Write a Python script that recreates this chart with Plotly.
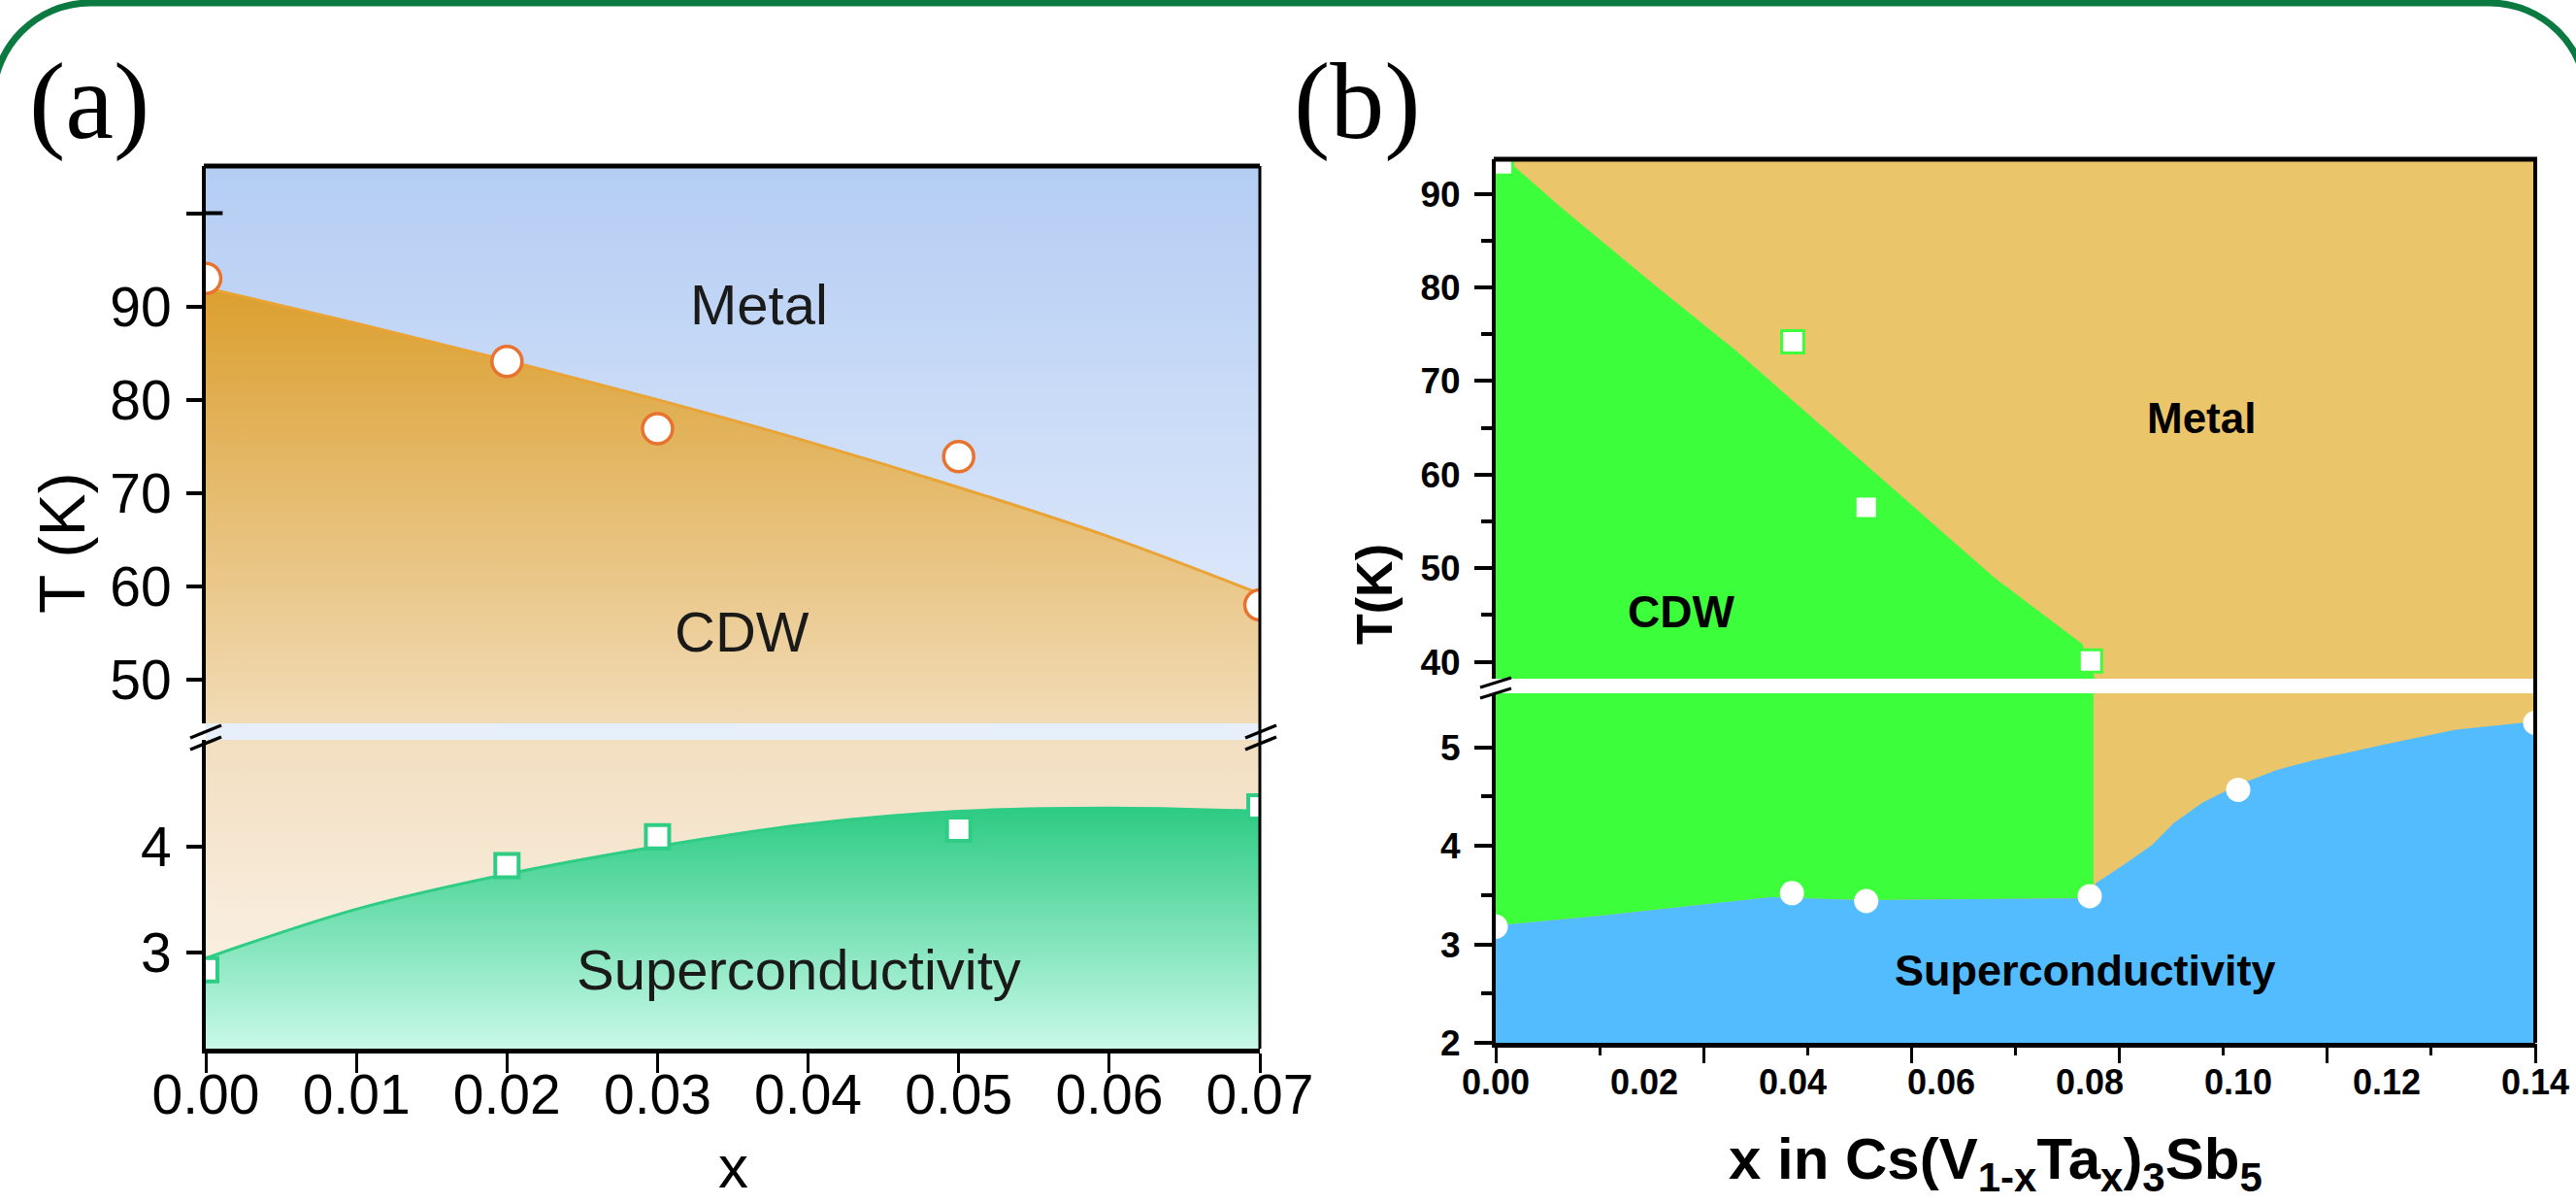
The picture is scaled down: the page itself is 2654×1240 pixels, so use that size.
import plotly.graph_objects as go

# ---------------- data: panel (a) ----------------
a_x_grid = [0.00, 0.01, 0.02, 0.03, 0.04, 0.05, 0.06, 0.07]
a_cdw_boundary = [92.0, 88.2, 84.2, 80.0, 75.5, 70.6, 65.3, 59.2]
a_sc_boundary = [2.95, 3.41, 3.74, 4.00, 4.21, 4.33, 4.36, 4.33]
a_x_samples = [0.00, 0.02, 0.03, 0.05, 0.07]
a_tcdw = [93.0, 84.1, 76.9, 73.9, 58.0]
a_tc = [2.84, 3.82, 4.09, 4.16, 4.37]
a_xticks = [0.00, 0.01, 0.02, 0.03, 0.04, 0.05, 0.06, 0.07]
a_yticks_up = [50, 60, 70, 80, 90, 100]
a_yticklabels_up = ["50", "60", "70", "80", "90", ""]
a_yticks_lo = [3, 4]

# ---------------- data: panel (b) ----------------
b_cdw_edge_x = [0.0014, 0.0089, 0.0218, 0.0323, 0.0439, 0.0556, 0.0673, 0.0790, 0.0807]
b_cdw_edge_t = [93.7, 88.5, 80.0, 73.3, 65.2, 57.0, 48.9, 41.9, 38.2]
b_cdw_low_x = 0.0805
b_sc_edge_x = [0.0, 0.0139, 0.025, 0.037, 0.045, 0.05, 0.065, 0.0805,
               0.0808, 0.0846, 0.0884, 0.0913, 0.0952, 0.1000, 0.1052,
               0.1101, 0.1197, 0.1293, 0.1394, 0.14]
b_sc_edge_t = [3.19, 3.29, 3.38, 3.48, 3.46, 3.45, 3.46, 3.47,
               3.62, 3.81, 4.01, 4.23, 4.44, 4.62, 4.77,
               4.87, 5.03, 5.18, 5.26, 5.27]
b_x_cdw = [0.0008, 0.0400, 0.0499, 0.0801]
b_tcdw = [93.2, 74.2, 56.5, 40.1]
b_x_sc = [0.0, 0.0399, 0.0499, 0.0800, 0.1000, 0.14]
b_tc = [3.18, 3.52, 3.44, 3.49, 4.57, 5.25]
b_xlabels = [0.00, 0.02, 0.04, 0.06, 0.08, 0.10, 0.12, 0.14]
b_xticks_major = [0.0, 0.028, 0.056, 0.084, 0.112, 0.14]
b_xticks_minor = [0.014, 0.042, 0.070, 0.098, 0.126]
b_yticks_up = [40, 50, 60, 70, 80, 90]
b_yminor_up = [45, 55, 65, 75, 85]
b_yticks_lo = [2, 3, 4, 5]
b_yminor_lo = [2.5, 3.5, 4.5]

# ranges
A_X = [0.0, 0.07]
A_YUP = [45.3, 105.05]
A_YLO = [2.10, 5.0]
B_X = [0.0, 0.14]
B_YUP = [38.2, 93.7]
B_YLO = [2.0, 5.55]

W, H = 2654, 1240
def px(x):
    return x / W
def py(y):
    return 1 - y / H

SANS = "Liberation Sans, Arial, sans-serif"
SERIF = "Liberation Serif, Times New Roman, serif"

fig = go.Figure()

# ---------- panel (a) ----------
fig.add_trace(go.Scatter(
    x=[A_X[0], A_X[1], A_X[1], A_X[0]], y=[A_YUP[0], A_YUP[0], A_YUP[1], A_YUP[1]],
    fill="toself", mode="lines", line=dict(width=0),
    fillgradient=dict(type="vertical", colorscale=[[0, "#E6EEFC"], [1, "#B4CDF3"]]),
    xaxis="x", yaxis="y", hoverinfo="skip", showlegend=False))
fig.add_trace(go.Scatter(
    x=[A_X[0], A_X[1]], y=[A_YUP[0], A_YUP[0]], mode="lines", line=dict(width=0),
    xaxis="x", yaxis="y", hoverinfo="skip", showlegend=False))
fig.add_trace(go.Scatter(
    x=a_x_grid, y=a_cdw_boundary, mode="lines", fill="tonexty",
    line=dict(color="#EAA335", width=3, shape="spline"),
    fillgradient=dict(type="vertical", start=A_YUP[0], stop=max(a_cdw_boundary),
                      colorscale=[[0, "#F1DBB6"], [1, "#DB9F2E"]]),
    xaxis="x", yaxis="y", hoverinfo="skip", showlegend=False))

fig.add_trace(go.Scatter(
    x=[A_X[0], A_X[1], A_X[1], A_X[0]], y=[A_YLO[0], A_YLO[0], A_YLO[1], A_YLO[1]],
    fill="toself", mode="lines", line=dict(width=0),
    fillgradient=dict(type="vertical", colorscale=[[0, "#FCF6EE"], [1, "#F2DEC0"]]),
    xaxis="x", yaxis="y2", hoverinfo="skip", showlegend=False))
fig.add_trace(go.Scatter(
    x=[A_X[0], A_X[1]], y=[A_YLO[0], A_YLO[0]], mode="lines", line=dict(width=0),
    xaxis="x", yaxis="y2", hoverinfo="skip", showlegend=False))
fig.add_trace(go.Scatter(
    x=a_x_grid, y=a_sc_boundary, mode="lines", fill="tonexty",
    line=dict(color="#2ECC84", width=3, shape="spline"),
    fillgradient=dict(type="vertical", start=A_YLO[0], stop=max(a_sc_boundary),
                      colorscale=[[0, "#C8F9E9"], [1, "#2DCB83"]]),
    xaxis="x", yaxis="y2", hoverinfo="skip", showlegend=False))

fig.add_trace(go.Scatter(
    x=a_x_samples, y=a_tcdw, mode="markers",
    marker=dict(symbol="circle", size=31, color="white", line=dict(color="#E8722E", width=3.5)),
    xaxis="x", yaxis="y", showlegend=False))
fig.add_trace(go.Scatter(
    x=a_x_samples, y=a_tc, mode="markers",
    marker=dict(symbol="square", size=24, color="white", line=dict(color="#2ECC84", width=4)),
    xaxis="x", yaxis="y2", showlegend=False))

# ---------- panel (b) ----------
TAN, GREEN, BLUE = "#EBC56A", "#3DFE3B", "#52BCFE"
fig.add_trace(go.Scatter(
    x=[B_X[0], B_X[1], B_X[1], B_X[0]], y=[B_YUP[0], B_YUP[0], B_YUP[1], B_YUP[1]],
    fill="toself", fillcolor=TAN, mode="lines", line=dict(width=0),
    xaxis="x3", yaxis="y3", hoverinfo="skip", showlegend=False))
fig.add_trace(go.Scatter(
    x=[B_X[0]] + b_cdw_edge_x + [B_X[0]], y=[B_YUP[1]] + b_cdw_edge_t + [B_YUP[0]],
    fill="toself", fillcolor=GREEN, mode="lines", line=dict(width=0),
    xaxis="x3", yaxis="y3", hoverinfo="skip", showlegend=False))
fig.add_trace(go.Scatter(
    x=[B_X[0], B_X[1], B_X[1], B_X[0]], y=[B_YLO[0], B_YLO[0], B_YLO[1], B_YLO[1]],
    fill="toself", fillcolor=TAN, mode="lines", line=dict(width=0),
    xaxis="x3", yaxis="y4", hoverinfo="skip", showlegend=False))
n_green = b_sc_edge_x.index(b_cdw_low_x) + 1
fig.add_trace(go.Scatter(
    x=b_sc_edge_x[:n_green] + [b_cdw_low_x, B_X[0]],
    y=b_sc_edge_t[:n_green] + [B_YLO[1], B_YLO[1]],
    fill="toself", fillcolor=GREEN, mode="lines", line=dict(width=0),
    xaxis="x3", yaxis="y4", hoverinfo="skip", showlegend=False))
fig.add_trace(go.Scatter(
    x=b_sc_edge_x + [B_X[1], B_X[0]], y=b_sc_edge_t + [B_YLO[0], B_YLO[0]],
    fill="toself", fillcolor=BLUE, mode="lines", line=dict(width=0),
    xaxis="x3", yaxis="y4", hoverinfo="skip", showlegend=False))
fig.add_trace(go.Scatter(
    x=b_x_cdw, y=b_tcdw, mode="markers",
    marker=dict(symbol="square", size=23, color="white", line=dict(color=GREEN, width=3)),
    xaxis="x3", yaxis="y3", showlegend=False))
fig.add_trace(go.Scatter(
    x=b_x_sc, y=b_tc, mode="markers",
    marker=dict(symbol="circle", size=25, color="white", line=dict(width=0)),
    xaxis="x3", yaxis="y4", showlegend=False))
# helper (empty) trace for the tick-mark axis of panel (b)
fig.add_trace(go.Scatter(x=[], y=[], xaxis="x4", yaxis="y4", showlegend=False))

# ---------- axes ----------
tick_a = dict(family=SANS, size=57, color="black")
tick_b = dict(family=SANS, size=36, color="black", weight="bold")
tick_by = dict(family=SANS, size=37, color="black", weight="bold")
common = dict(showgrid=False, zeroline=False, showline=True, linecolor="black",
              ticks="outside", tickcolor="black", automargin=False)

layout_axes = dict(
    xaxis=dict(common, domain=[px(212), px(1298)], range=A_X, anchor="y2",
               linewidth=5, ticklen=20, tickwidth=3,
               tickvals=a_xticks, ticktext=[f"{v:.2f}" for v in a_xticks],
               tickfont=tick_a, ticklabelstandoff=-26),
    yaxis=dict(common, domain=[py(745), py(171)], range=A_YUP, anchor="x",
               linewidth=4, ticklen=16, tickwidth=4,
               tickvals=a_yticks_up, ticktext=a_yticklabels_up, tickfont=tick_a,
               ticklabelstandoff=4),
    yaxis2=dict(common, domain=[py(1080), py(762)], range=A_YLO, anchor="x",
                linewidth=4, ticklen=16, tickwidth=4,
                tickvals=a_yticks_lo, ticktext=[str(v) for v in a_yticks_lo],
                tickfont=tick_a, ticklabelstandoff=4),
    xaxis3=dict(common, domain=[px(1541), px(2612)], range=B_X, anchor="y4",
                linewidth=5, ticks="", tickvals=b_xlabels,
                ticktext=[f"{v:.2f}" for v in b_xlabels], tickfont=tick_b,
                ticklabelstandoff=5),
    xaxis4=dict(showgrid=False, zeroline=False, showline=False, automargin=False,
                domain=[px(1541), px(2612)], range=B_X, anchor="y4", overlaying="x3",
                ticks="outside", ticklen=20, tickwidth=3, tickcolor="black",
                tickvals=b_xticks_major, showticklabels=False,
                minor=dict(tickvals=b_xticks_minor, ticks="outside", ticklen=12,
                           tickwidth=3, tickcolor="black")),
    yaxis3=dict(common, domain=[py(699), py(164)], range=B_YUP, anchor="x3",
                linewidth=4, ticklen=18, tickwidth=4, tickvals=b_yticks_up,
                tickfont=tick_by, ticklabelstandoff=7,
                minor=dict(tickvals=b_yminor_up, ticks="outside", ticklen=11,
                           tickwidth=4, tickcolor="black")),
    yaxis4=dict(common, domain=[py(1074), py(714)], range=B_YLO, anchor="x3",
                linewidth=4, ticklen=18, tickwidth=4, tickvals=b_yticks_lo,
                tickfont=tick_by, ticklabelstandoff=7,
                minor=dict(tickvals=b_yminor_lo, ticks="outside", ticklen=11,
                           tickwidth=4, tickcolor="black")),
)

# ---------- shapes ----------
def pline(x0, y0, x1, y1, w=4, color="black"):
    return dict(type="line", xref="paper", yref="paper",
                x0=px(x0), y0=py(y0), x1=px(x1), y1=py(y1),
                line=dict(color=color, width=w), layer="above")

shapes = [
    # break band (a)
    dict(type="rect", xref="paper", yref="paper", x0=px(212), x1=px(1298),
         y0=py(762), y1=py(745), fillcolor="#E7EFFB", line=dict(width=0), layer="below"),
    # frame (a)
    pline(210, 171, 1298, 171, 5),
    pline(1298, 171, 1298, 1080, 3),
    # inner part of the top tick at 100 (a)
    dict(type="line", xref="x domain", yref="y", x0=0, x1=0.016, y0=100, y1=100,
         line=dict(color="black", width=4)),
    # break marks (a)
    pline(196, 760, 228, 747, 3.5), pline(196, 772, 228, 759, 3.5),
    pline(1283, 760, 1315, 747, 3.5), pline(1283, 772, 1315, 759, 3.5),
    # frame (b)
    pline(1539, 164, 2614, 164, 5),
    pline(2612, 164, 2612, 1074, 4),
    # break marks (b)
    pline(1525, 708, 1557, 698, 3), pline(1525, 719, 1557, 709, 3),
]

# rounded green border
r, k = 100, 0.5523
L, T, R, B = -7, 3, 2665, 1400
pts = lambda x, y: f"{px(x):.5f},{py(y):.5f}"
border = (f"M{pts(L, B)} L{pts(L, T + r)} "
          f"C{pts(L, T + r - k * r)} {pts(L + r - k * r, T)} {pts(L + r, T)} "
          f"L{pts(R - r, T)} "
          f"C{pts(R - r + k * r, T)} {pts(R, T + r - k * r)} {pts(R, T + r)} "
          f"L{pts(R, B)}")
shapes.append(dict(type="path", xref="paper", yref="paper", path=border,
                   line=dict(color="#0A7A40", width=7), layer="above"))

# ---------- annotations ----------
def ann(text, x, y, size, family=SANS, weight="normal", angle=0, yanchor="middle", color="black"):
    return dict(text=text, x=px(x), y=py(y), xref="paper", yref="paper",
                showarrow=False, xanchor="center", yanchor=yanchor, textangle=angle,
                font=dict(family=family, size=size, color=color, weight=weight))

annotations = [
    ann("(a)", 92, 104, 112, family=SERIF),
    ann("(b)", 1398, 104, 112, family=SERIF),
    ann("T (K)", 64, 560, 66, angle=-90),
    ann("x", 755, 1238, 62, yanchor="bottom"),
    ann("Metal", 782, 313, 58, color="#1a1a1a"),
    ann("CDW", 765, 650, 58, color="#1a1a1a"),
    ann("Superconductivity", 823, 998, 58, color="#1a1a1a"),
    ann("T(K)", 1416, 612, 52, weight="bold", angle=-90),
    ann("x in Cs(V<sub>1-x</sub>Ta<sub>x</sub>)<sub>3</sub>Sb<sub>5</sub>", 2056, 1238, 60,
        weight="bold", yanchor="bottom"),
    ann("Metal", 2268, 430, 44, weight="bold"),
    ann("CDW", 1732, 630, 46, weight="bold"),
    ann("Superconductivity", 2148, 1000, 45, weight="bold"),
]

fig.update_layout(
    width=W, height=H, margin=dict(l=0, r=0, t=0, b=0, autoexpand=False),
    paper_bgcolor="white", plot_bgcolor="rgba(0,0,0,0)",
    showlegend=False, shapes=shapes, annotations=annotations,
    **layout_axes)

fig.write_html("out.html", config={"displayModeBar": False},
               post_script="document.body.style.margin='0';document.body.style.overflow='hidden';")
